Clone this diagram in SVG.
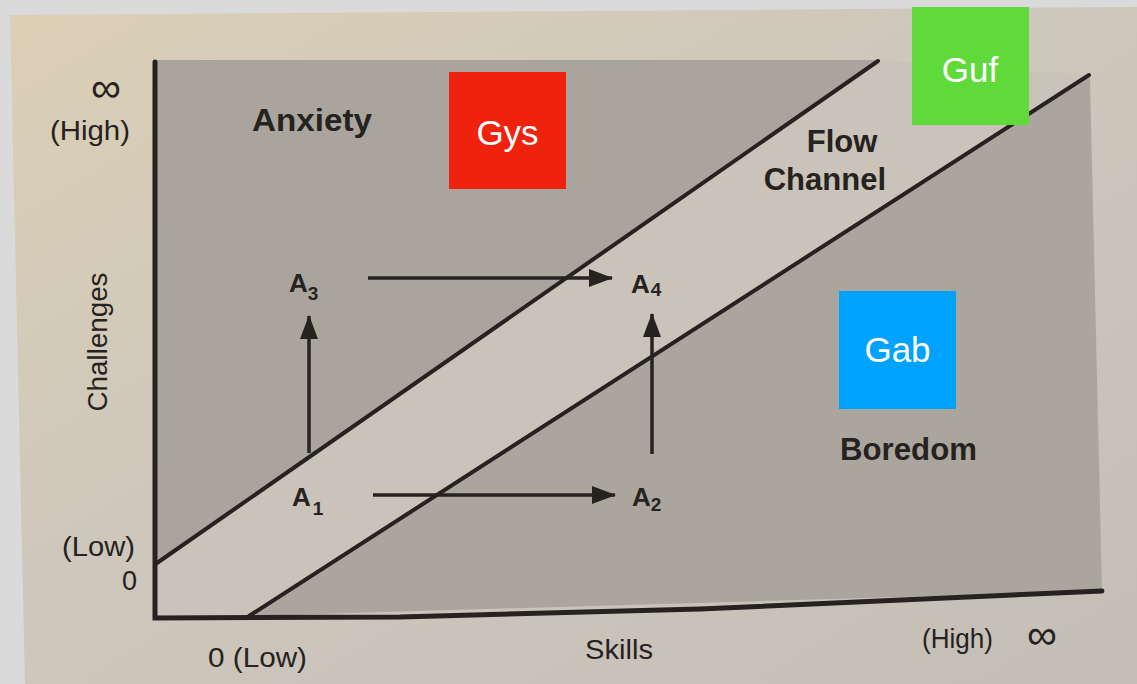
<svg xmlns="http://www.w3.org/2000/svg" width="1137" height="684" viewBox="0 0 1137 684">
  <defs>
    <linearGradient id="page" x1="0" y1="0" x2="1" y2="1">
      <stop offset="0" stop-color="#dccfb5"/>
      <stop offset="0.45" stop-color="#cdc7bc"/>
      <stop offset="1" stop-color="#c4bfb6"/>
    </linearGradient>
    <marker id="arrow" viewBox="0 0 24 18" refX="23" refY="9" markerWidth="24" markerHeight="18" markerUnits="userSpaceOnUse" orient="auto">
      <path d="M0,0 L24,9 L0,18 Z" fill="#252220"/>
    </marker>
    <style>
      .ink { fill: #252220; font-family: "Liberation Sans", Arial, sans-serif; }
      .axis { font-size: 27px; }
      .inf { font-size: 42px; text-anchor: middle; }
      .region { font-size: 31px; font-weight: bold; }
      .pt { font-size: 26px; font-weight: bold; }
      .sub { font-size: 19px; font-weight: bold; }
      .line { stroke: #252220; fill: none; stroke-linecap: round; }
      .arr { stroke: #252220; stroke-width: 3.5; fill: none; }
      .tag { fill: #ffffff; font-family: "Liberation Sans", Arial, sans-serif; font-size: 35px; text-anchor: middle; }
    </style>
  </defs>

  <g id="background">
    <rect x="0" y="0" width="1137" height="684" fill="#dadada"/>
    <polygon points="10,15 1137,7 1137,684 25,684" fill="url(#page)"/>
  </g>

  <g id="regions">
    <polygon id="anxiety-zone" points="157,60 878,60 157,563" fill="#a9a59d"/>
    <polygon id="flow-zone" points="157,563 878,60 1089,75 250,616 157,618" fill="#c9c3b9"/>
    <polygon id="boredom-zone" points="250,616 1089,75 1090,80 1102,591" fill="#aaa69e"/>
  </g>

  <g id="axes">
    <polyline class="line" stroke-width="5" points="155,62 155,618 400,617 700,609 1102,591"/>
    <line class="line" stroke-width="4" x1="157" y1="563" x2="878" y2="61"/>
    <line class="line" stroke-width="4" x1="249" y1="616" x2="1089" y2="75"/>
  </g>

  <g id="axis-labels" class="ink axis">
    <text class="inf" x="106" y="102">∞</text>
    <text x="50" y="140" textLength="80" lengthAdjust="spacingAndGlyphs">(High)</text>
    <text x="62" y="556" textLength="73" lengthAdjust="spacingAndGlyphs">(Low)</text>
    <text x="122" y="590">0</text>
    <text x="208" y="667" textLength="99" lengthAdjust="spacingAndGlyphs">0 (Low)</text>
    <text x="585" y="659" textLength="68" lengthAdjust="spacingAndGlyphs">Skills</text>
    <text x="922" y="648" textLength="71" lengthAdjust="spacingAndGlyphs">(High)</text>
    <text class="inf" x="1042" y="649">∞</text>
    <text transform="translate(107,342) rotate(-90)" text-anchor="middle" textLength="139" lengthAdjust="spacingAndGlyphs">Challenges</text>
  </g>

  <g id="region-labels" class="ink region">
    <text id="anxiety" x="252" y="131" textLength="120" lengthAdjust="spacingAndGlyphs">Anxiety</text>
    <text id="flow-channel" text-anchor="end">
      <tspan x="886" y="152">Flow</tspan>
      <tspan x="886" y="190">Channel</tspan>
    </text>
    <text id="boredom" x="840" y="460" textLength="137" lengthAdjust="spacingAndGlyphs">Boredom</text>
  </g>

  <g id="connectors">
    <line class="arr" x1="373" y1="495" x2="615" y2="495" marker-end="url(#arrow)"/>
    <line class="arr" x1="368" y1="278" x2="612" y2="278" marker-end="url(#arrow)"/>
    <line class="arr" x1="309" y1="453" x2="309" y2="316" marker-end="url(#arrow)"/>
    <line class="arr" x1="652" y1="454" x2="652" y2="314" marker-end="url(#arrow)"/>
  </g>

  <g id="A1" class="ink"><text x="292" y="506" class="pt">A<tspan class="sub" dx="2" dy="9">1</tspan></text></g>
  <g id="A2" class="ink"><text x="632" y="506" class="pt">A<tspan class="sub" dy="5">2</tspan></text></g>
  <g id="A3" class="ink"><text x="289" y="292" class="pt">A<tspan class="sub" dy="8">3</tspan></text></g>
  <g id="A4" class="ink"><text x="631" y="293" class="pt">A<tspan class="sub" dx="1" dy="3">4</tspan></text></g>

  <g id="Gys">
    <rect x="449" y="72" width="117" height="117" fill="#ee220d"/>
    <text class="tag" x="507.5" y="145">Gys</text>
  </g>
  <g id="Guf">
    <rect x="912" y="7" width="117" height="118" fill="#5fda3a"/>
    <text class="tag" x="970" y="82">Guf</text>
  </g>
  <g id="Gab">
    <rect x="839" y="291" width="117" height="118" fill="#00a2ff"/>
    <text class="tag" x="897.5" y="362">Gab</text>
  </g>
</svg>
